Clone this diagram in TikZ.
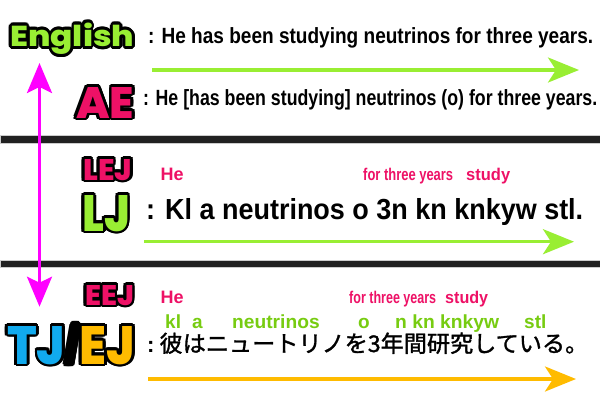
\documentclass[tikz,border=0pt]{standalone}
\usepackage{fontspec}
\usepackage{graphicx}
\setmainfont{Liberation Sans}
\newfontfamily\jpfont{Noto Sans CJK JP}[FakeBold=1.4]
\newfontfamily\tagfont{Poppins ExtraBold}
\usetikzlibrary{arrows.meta}
\definecolor{engreen}{RGB}{153,238,51}
\definecolor{pinkr}{RGB}{238,17,102}
\definecolor{cyanb}{RGB}{17,170,238}
\definecolor{ambr}{RGB}{255,187,0}
\definecolor{leaf}{RGB}{119,204,17}
\definecolor{magen}{RGB}{255,0,255}
\tikzset{
    txt/.style = {anchor=base west, inner sep=0pt, font=\bfseries\fontsize{22}{26}\selectfont},
    txtl/.style = {txt, font=\bfseries\fontsize{29}{34}\selectfont},
    txtp/.style = {txt, text=pinkr, font=\bfseries\fontsize{18}{20}\selectfont},
    txtg/.style = {txt, text=leaf, font=\bfseries\fontsize{19}{21}\selectfont},
    tag/.style = {anchor=base west, inner sep=0pt, font=\tagfont\fontsize{30}{30}\selectfont},
    edgeg/.style = {-{Stealth[length=31pt,width=25pt,inset=8pt]}, line width=3.3pt, engreen},
    edgeo/.style = {edgeg, ambr},
    edgem/.style = {{Stealth[length=30pt,width=25pt,inset=6pt]}-{Stealth[length=30pt,width=25pt,inset=6pt]}, line width=3pt, magen},
    bar/.style = {fill=black!87, draw=black!20, line width=1pt}
}
\newcommand{\W}[2]{\resizebox{#1pt}{\height}{#2}}
\newcommand{\WH}[3]{\resizebox{#1pt}{#2pt}{#3}}
\newcommand{\tagblack}[2]{#2}
\newcommand{\slsh}{\smash{\normalfont\bfseries\raisebox{0.5pt}{/}}}
% outlined label: name, x, y, width, height, colour, text
\newcommand{\Tag}[7]{%
  \foreach \a in {0,22.5,...,337.5}
    \node[tag, text=black, shift={(\a:2.8)}] at (#2, #3) {\let\textcolor\tagblack\WH{#4}{#5}{#7}};
  \node[tag, text=#6] at (#2, #3) (#1) {\WH{#4}{#5}{#7}};
}

\begin{document}
\begin{tikzpicture}[x=1pt,y=-1pt]
\useasboundingbox (0,0) rectangle (600,400);
\fill[white] (0,0) rectangle (600,400);
\draw[bar] (0,135.5) rectangle (600,143);
\draw[bar] (0,260.5) rectangle (600,267.5);
%
\coordinate (g1a) at (152, 70);
\coordinate (g1b) at (579, 70);
\coordinate (g2a) at (144, 241.7);
\coordinate (g2b) at (574, 241.7);
\coordinate (o1a) at (148, 379);
\coordinate (o1b) at (576, 379);
\coordinate (ma) at (39.5, 63);
\coordinate (mb) at (39.5, 306.7);
\draw[edgeg] (g1a) -- (g1b);
\draw[edgeg] (g2a) -- (g2b);
\draw[edgeo] (o1a) -- (o1b);
\draw[edgem] (ma) -- (mb);
%
\Tag{en}{10}{46.5}{124}{23.5}{engreen}{English}
\Tag{ae}{76}{118}{58}{31}{pinkr}{AE}
\Tag{lej}{83}{180}{49}{21}{pinkr}{LEJ}
\Tag{lj}{82}{231}{48}{36}{engreen}{LJ}
\Tag{eej}{85}{305}{49}{20}{pinkr}{EEJ}
\Tag{tj}{7}{364}{128}{38}{black}{\textcolor{cyanb}{TJ}\slsh\textcolor{ambr}{EJ}}
%
\node[txt] at (148, 43.3) (en1) {\W{445}{: He has been studying neutrinos for three years.}};
\node[txt] at (143, 105.5) (ae1) {\W{454}{: He [has been studying] neutrinos (o) for three years.}};
\node[txtl] at (146, 219) (lj1) {\W{437}{: Kl a neutrinos o 3n kn knkyw stl.}};
\node[txt] at (147, 352) (tj1) {\W{441}{:\hspace{5pt}{\jpfont\mdseries\fontsize{23}{26}\selectfont 彼はニュートリノを3年間研究している。}}};
%
\node[txtp] at (160.5, 180) (he1) {He};
\node[txtp] at (363, 180) (ty1) {\W{90}{\fontsize{17}{20}\selectfont for three years}};
\node[txtp] at (466, 180) (st1) {\W{44}{\fontsize{17}{20}\selectfont study}};
\node[txtp] at (160.5, 303) (he2) {He};
\node[txtp] at (349, 303) (ty2) {\W{87}{\fontsize{17}{20}\selectfont for three years}};
\node[txtp] at (445, 303) (st2) {\W{43}{\fontsize{17}{20}\selectfont study}};
%
\node[txtg] at (165, 328) (kl) {kl};
\node[txtg] at (192, 328) (a) {a};
\node[txtg] at (232, 328) (neu) {\W{87.5}{neutrinos}};
\node[txtg] at (358, 328) (o) {o};
\node[txtg] at (395, 328) (kn) {\W{104}{n kn knkyw}};
\node[txtg] at (524, 328) (stl) {stl};

\end{tikzpicture}
\end{document}
